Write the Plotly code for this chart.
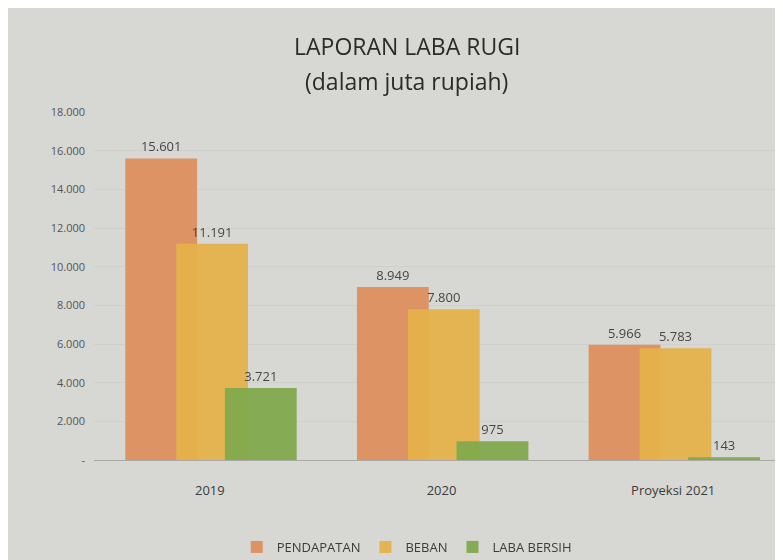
import plotly.graph_objects as go

categories = ["2019", "2020", "Proyeksi 2021"]
pendapatan = [15601, 8949, 5966]
beban = [11191, 7800, 5783]
laba_bersih = [3721, 975, 143]
series_names = ["PENDAPATAN", "BEBAN", "LABA BERSIH"]
tick_values = [0, 2000, 4000, 6000, 8000, 10000, 12000, 14000, 16000, 18000]
tick_labels = ["-", "2.000", "4.000", "6.000", "8.000", "10.000", "12.000", "14.000", "16.000", "18.000"]
title_lines = ["LAPORAN LABA RUGI", "(dalam juta rupiah)"]

colors = ["#df8e5c", "#e6b24a", "#7fa94c"]
offsets = [-0.365, -0.145, 0.065]
width = 0.31

fig = go.Figure()
for name, vals, col, off in zip(series_names, [pendapatan, beban, laba_bersih], colors, offsets):
    fig.add_trace(go.Bar(
        x=categories, y=vals, name=name,
        marker=dict(color=col, line=dict(width=0)),
        opacity=0.93,
        offset=off, width=width,
        text=[f"{v:,}".replace(",", ".") for v in vals],
        textposition="outside",
        textfont=dict(family="Open Sans, sans-serif", size=13, color="#3a3a3a"),
        cliponaxis=False,
    ))

for txt, yy in zip(title_lines, [1.19, 1.09]):
    fig.add_annotation(
        text=txt, xref="paper", yref="paper", x=0.45, y=yy,
        xanchor="center", yanchor="middle", showarrow=False,
        font=dict(family="Open Sans, sans-serif", size=23, color="#2b2b2b"),
    )

fig.update_layout(
    width=783, height=560,
    barmode="overlay",
    paper_bgcolor="#d7d7d4",
    plot_bgcolor="#d7d7d4",
    margin=dict(l=86, r=2, t=104, b=108),
    xaxis=dict(
        showgrid=False, showline=True, linecolor="#a9a9a6", linewidth=1,
        tickfont=dict(family="Open Sans, sans-serif", size=13, color="#3c3c3c"),
        ticks="", ticklabelstandoff=18,
    ),
    yaxis=dict(
        range=[0, 18000], tickvals=tick_values, ticktext=tick_labels,
        showgrid=True, gridcolor="#cfcfcc", gridwidth=1,
        zeroline=False,
        tickfont=dict(family="Open Sans, sans-serif", size=11, color="#555555"),
        ticklabelstandoff=8,
    ),
    legend=dict(
        orientation="h", x=0.45, xanchor="center", y=-0.25, yanchor="middle",
        font=dict(family="Open Sans, sans-serif", size=13, color="#3c3c3c"),
        itemwidth=30, bgcolor="rgba(0,0,0,0)",
    ),
    showlegend=True,
)

fig.write_html("out.html")
